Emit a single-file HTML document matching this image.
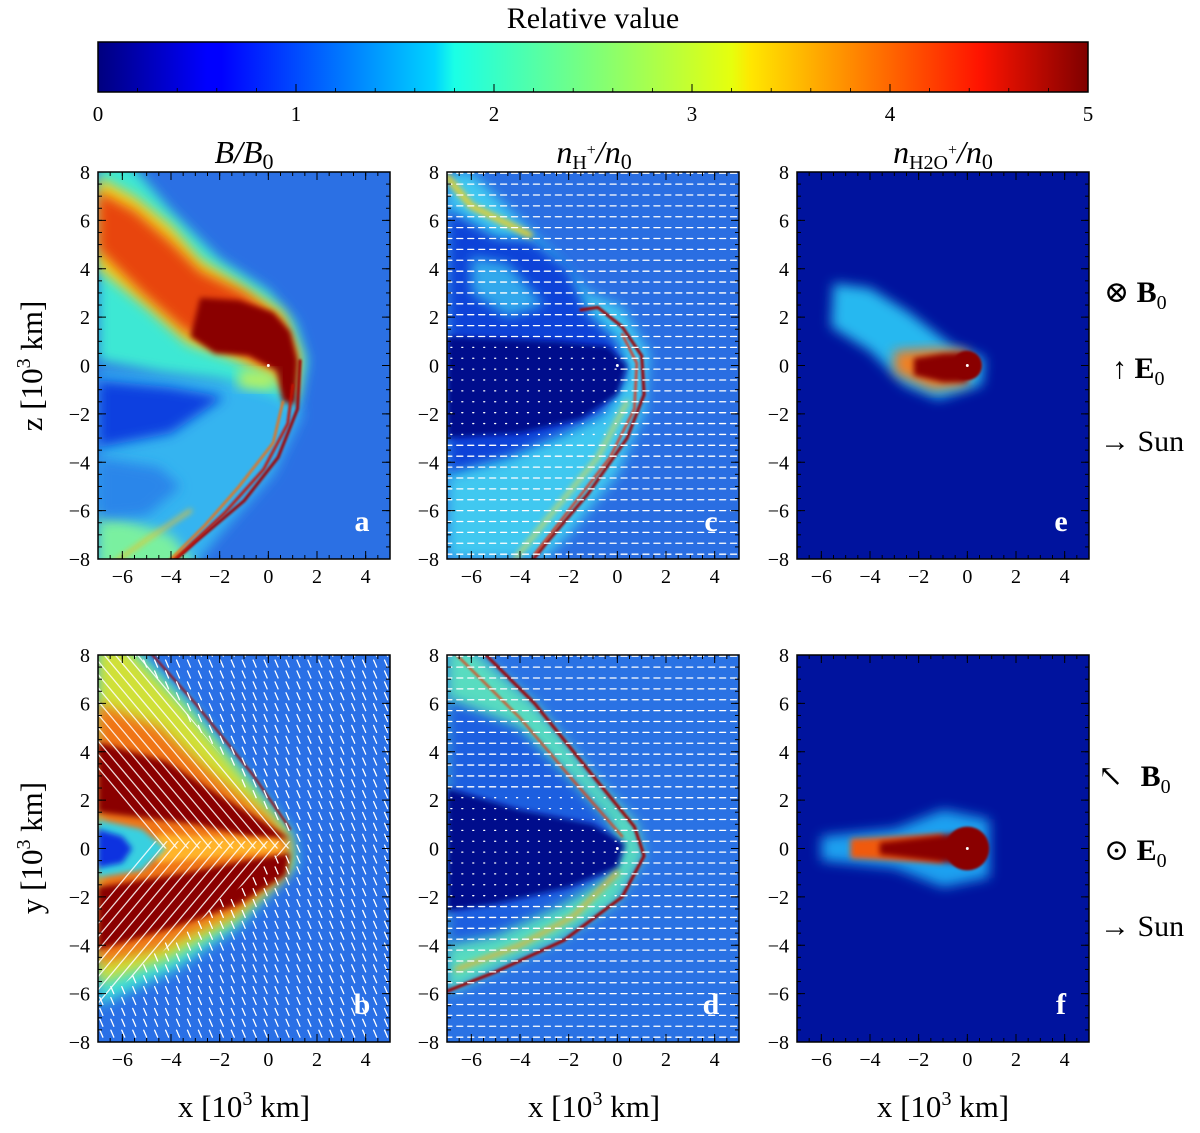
<!DOCTYPE html>
<html><head><meta charset="utf-8"><style>
html,body{margin:0;padding:0;background:#fff;}
svg{display:block;font-family:"Liberation Serif","DejaVu Serif",serif;}
</style></head><body>
<svg id="fig" width="1200" height="1133" viewBox="0 0 1200 1133" xmlns="http://www.w3.org/2000/svg">
<defs>
<linearGradient id="jet" x1="0" x2="1" y1="0" y2="0">
<stop offset="0" stop-color="#00007f"/><stop offset="0.11" stop-color="#0000ff"/><stop offset="0.125" stop-color="#0000ff"/>
<stop offset="0.34" stop-color="#00d4ff"/><stop offset="0.36" stop-color="#1affe6"/><stop offset="0.5" stop-color="#7dff7a"/>
<stop offset="0.64" stop-color="#e6ff0d"/><stop offset="0.66" stop-color="#ffe600"/><stop offset="0.89" stop-color="#ff1400"/><stop offset="1" stop-color="#7f0000"/>
</linearGradient>
<filter id="b6" x="-20%" y="-20%" width="140%" height="140%"><feGaussianBlur stdDeviation="6"/></filter>
<filter id="b3" x="-20%" y="-20%" width="140%" height="140%"><feGaussianBlur stdDeviation="3"/></filter>
<filter id="b1"><feGaussianBlur stdDeviation="1"/></filter>
</defs>
<text x="593" y="28" text-anchor="middle" font-size="30">Relative value</text>
<rect x="98" y="42" width="990" height="50" fill="url(#jet)" stroke="#000" stroke-width="1.5"/>
<g id="cbticks"></g>
<g id="panels"></g>
<text x="244" y="163" text-anchor="middle" font-size="32" font-style="italic">B/B<tspan font-style="normal" font-size="22" dy="6">0</tspan></text>
<text x="594" y="163" text-anchor="middle" font-size="32" font-style="italic">n<tspan font-style="normal" font-size="20" dy="6">H</tspan><tspan font-style="normal" font-size="16" dy="-14">+</tspan><tspan dy="8">/n</tspan><tspan font-style="normal" font-size="22" dy="6">0</tspan></text>
<text x="943" y="163" text-anchor="middle" font-size="32" font-style="italic">n<tspan font-style="normal" font-size="20" dy="6">H2O</tspan><tspan font-style="normal" font-size="16" dy="-14">+</tspan><tspan dy="8">/n</tspan><tspan font-style="normal" font-size="22" dy="6">0</tspan></text>
<text transform="translate(42,366) rotate(-90)" text-anchor="middle" font-size="31">z [10<tspan font-size="20" dy="-12">3</tspan><tspan dy="12"> km]</tspan></text>
<text transform="translate(42,848) rotate(-90)" text-anchor="middle" font-size="31">y [10<tspan font-size="20" dy="-12">3</tspan><tspan dy="12"> km]</tspan></text>
<text x="244" y="1117" text-anchor="middle" font-size="31">x [10<tspan font-size="20" dy="-12">3</tspan><tspan dy="12"> km]</tspan></text>
<text x="594" y="1117" text-anchor="middle" font-size="31">x [10<tspan font-size="20" dy="-12">3</tspan><tspan dy="12"> km]</tspan></text>
<text x="943" y="1117" text-anchor="middle" font-size="31">x [10<tspan font-size="20" dy="-12">3</tspan><tspan dy="12"> km]</tspan></text>
<g font-size="30">
<text x="1104" y="302">⊗ <tspan font-weight="bold">B</tspan><tspan font-size="20" dy="7">0</tspan></text>
<text x="1112" y="378">↑ <tspan font-weight="bold">E</tspan><tspan font-size="20" dy="7">0</tspan></text>
<text x="1100" y="451">→ Sun</text>
</g>
<g font-size="30">
<text x="1098" y="786">↖ <tspan font-weight="bold" dx="10">B</tspan><tspan font-size="20" dy="7">0</tspan></text>
<text x="1104" y="860">⊙ <tspan font-weight="bold">E</tspan><tspan font-size="20" dy="7">0</tspan></text>
<text x="1100" y="936">→ Sun</text>
</g>
</svg>
<script>
const cbTicks=[0,1,2,3,4,5];
const xTicks=[-6,-4,-2,0,2,4];
const yTicks=[-8,-6,-4,-2,0,2,4,6,8];
const xRange=[-7,5], yRange=[-8,8];
const NS="http://www.w3.org/2000/svg";
function mk(tag,attrs,parent){const e=document.createElementNS(NS,tag);for(const k in attrs)e.setAttribute(k,attrs[k]);parent.appendChild(e);return e;}
const cbg=document.getElementById('cbticks');
const cbx=v=>98+v/5*990;
cbTicks.forEach(v=>{
  const t=mk('text',{x:cbx(v),y:121,'text-anchor':'middle','font-size':21},cbg);t.textContent=v;
  
  
  mk('line',{x1:cbx(v),x2:cbx(v),y1:92,y2:84,stroke:'#000','stroke-width':1},cbg);
});
for(let v=0;v<=5.001;v+=0.2){mk('line',{x1:cbx(v),x2:cbx(v),y1:92,y2:88,stroke:'#000','stroke-width':0.8},cbg);}

const W=292,H=387;
const panels=[
 {id:'a',x0:98,y0:172,bg:'#2b70e4'},
 {id:'c',x0:447,y0:172,bg:'#2a6ee2'},
 {id:'e',x0:797,y0:172,bg:'#00139e'},
 {id:'b',x0:98,y0:655,bg:'#2a70e6'},
 {id:'d',x0:447,y0:655,bg:'#2a72e4'},
 {id:'f',x0:797,y0:655,bg:'#00139e'}];
const pg=document.getElementById('panels');
panels.forEach(p=>{
  const sx=x=>p.x0+(x-xRange[0])/(xRange[1]-xRange[0])*W;
  const sy=y=>p.y0+(yRange[1]-y)/(yRange[1]-yRange[0])*H;
  const cp=mk('clipPath',{id:'clip'+p.id},pg);mk('rect',{x:p.x0,y:p.y0,width:W,height:H},cp);
  const g=mk('g',{'clip-path':'url(#clip'+p.id+')'},pg);
  
  
  mk('rect',{x:p.x0,y:p.y0,width:W,height:H,fill:p.bg},g);
  const dpath=pts=>'M'+pts.map(q=>sx(q[0]).toFixed(1)+','+sy(q[1]).toFixed(1)).join('L');
  const poly=(pts,fill,filt,op,par)=>{const e=mk('path',{d:dpath(pts)+'Z',fill:fill},par||g);if(filt)e.setAttribute('filter','url(#'+filt+')');if(op)e.setAttribute('opacity',op);return e;};
  const line=(pts,col,w,filt,par)=>{const e=mk('path',{d:dpath(pts),fill:'none',stroke:col,'stroke-width':w,'stroke-linejoin':'round','stroke-linecap':'round'},par||g);if(filt)e.setAttribute('filter','url(#'+filt+')');return e;};
  const circ=(x,y,r,fill,filt)=>{const e=mk('circle',{cx:sx(x),cy:sy(y),r:r*W/12,fill:fill},g);if(filt)e.setAttribute('filter','url(#'+filt+')');return e;};
  const arrows=(fn)=>{for(let gx=-6.8;gx<5;gx+=0.45){for(let gy=-7.8;gy<8;gy+=0.45){const v=fn(gx,gy);if(!v)continue;const X=sx(gx),Y=sy(gy);mk('line',{x1:X,y1:Y,x2:X+v[0],y2:Y+v[1],stroke:'#fff','stroke-width':1.3,'stroke-linecap':'round'},g);}}};
  if(p.id==='a'){
    poly([[-7,-0.2],[-2,-0.6],[0.5,-0.6],[1.4,-2],[0.2,-4.5],[-2,-7],[-3.2,-8.5],[-7,-8.5]],'#34b4f0','b6');
    poly([[-7,-6],[-4,-7],[-2.8,-8.5],[-7,-8.5]],'#7af0a0','b6');
    poly([[-7,8.5],[-5.8,8.5],[-4,6.4],[-2,4.4],[0,3.1],[1.1,1.8],[1.6,0.2],[1.2,-1.8],[0.2,-1.2],[-2,-0.6],[-4.4,-0.3],[-7,0.2]],'#3ce8d4','b6');
    poly([[-7,-0.6],[-4,-0.9],[-1.8,-1.3],[-4,-2.8],[-7,-3.4]],'#0c40e0','b6');
    poly([[-7,-3.8],[-4.5,-4.2],[-3.6,-5],[-5,-6.2],[-7,-6.4]],'#2c86ea','b6');
    poly([[-7,7.8],[-5.5,7],[-4,5.8],[-2.8,4.4],[-1.2,3.4],[0.6,2.2],[1.3,0.4],[1.1,-1.4],[0.3,-0.5],[-1.5,0.3],[-3.3,0.9],[-5,2.4],[-7,4]],'#f2d024','b6');
    poly([[-7,7.2],[-5.5,6.4],[-4,5.1],[-2.8,3.9],[-1,3],[0.6,1.8],[1.1,0.3],[0.9,-1],[0.3,-0.3],[-1.5,0.7],[-3.4,1.4],[-5.2,3],[-7,4.8]],'#e8440e','b6');
    poly([[-2.8,2.8],[-1.2,2.7],[0.2,2.2],[0.9,1.4],[1.2,0.2],[1.1,-1.6],[0.6,-1.5],[0.3,-0.2],[-0.8,0.4],[-2.2,0.5],[-3.2,1.2]],'#8a0000','b3');
    poly([[-1.2,-0.2],[0.3,-0.3],[0.2,-1],[-1.2,-0.9]],'#b8f060','b6');
    line([[1.3,0.2],[1.2,-1.8],[0.4,-3.8],[-1,-5.6],[-3,-7.3],[-4,-8.2]],'#a00000',3,'b1');
    line([[1.0,-0.8],[0.8,-2.4],[-0.2,-4.3],[-1.8,-6.1],[-3.4,-7.6],[-4.4,-8.4]],'#c81000',2.6,'b1');
    line([[0.6,-1.5],[0.2,-3.2],[-1.2,-5],[-2.6,-6.6],[-4.2,-8.2]],'#f07010',2.4,'b1');
    line([[-3.2,-6],[-5,-7.2],[-6.4,-8.2]],'#f0c020',3,'b3');
    circ(0,0,0.06,'#fff');
  }
  if(p.id==='b'){
    const inW=(x,y)=> y>=0 ? x < 1.1 - y*0.83 : x < 1.1 + y*1.25;
    poly([[-5.6,8.5],[-3.2,6],[-0.8,3],[1,0.6],[1.2,-0.6],[-1.2,-3.2],[-3.8,-5],[-7,-6.5],[-7,8.5]],'#40e0d8','b6');
    poly([[-5.8,8.3],[-3.4,5.8],[-1,2.9],[0.8,0.6],[0.9,-0.8],[-1.4,-3],[-4.2,-4.6],[-7,-5.6],[-7,8.3]],'#d0e038','b6');
    poly([[-7,6],[-4.5,5],[-2.2,3],[0,1.3],[0.9,0.2],[0.6,-1.2],[-1.4,-2.7],[-4.4,-4.1],[-7,-4.8]],'#f07414','b6');
    poly([[-7,4.4],[-4.2,3.6],[-2,2.2],[-0.2,1.1],[0.9,0.4],[-0.8,0.5],[-3,1],[-7,1.5]],'#8a0000','b3');
    poly([[-7,-1.6],[-3.4,-1],[-1,-0.5],[0.9,-0.2],[0.7,-1.1],[-1.2,-2.3],[-4,-3.3],[-7,-4.2]],'#8a0000','b3');
    poly([[-4.6,0.6],[0.4,0.35],[0.6,-0.1],[-4.6,-0.6]],'#ffb42a','b3');
    poly([[-7,1.2],[-5.2,0.8],[-4.2,0],[-5.2,-0.9],[-7,-1.2]],'#38d0e0','b3');
    poly([[-7,0.8],[-6,0.5],[-5.6,0],[-6,-0.6],[-7,-0.8]],'#0a30e0','b3');
    line([[-5.2,8.5],[-3,6],[-0.6,3],[0.9,0.8]],'#a00000',2,'b1');
    arrows((x,y)=>inW(x,y)?null:[-3,-7]);
    const wu=mk('clipPath',{id:'wedgebu'},pg);
    mk('path',{d:dpath([[-5.4,8.2],[1.1,0],[-7,0],[-7,8.2]])+'Z'},wu);
    const wd=mk('clipPath',{id:'wedgebd'},pg);
    mk('path',{d:dpath([[1.1,0.3],[-7,-6.5],[-7,0.3]])+'Z'},wd);
    const wlu=mk('g',{'clip-path':'url(#wedgebu)'},g);
    const wld=mk('g',{'clip-path':'url(#wedgebd)'},g);
    for(let k=0;k<24;k++){const y0=16-k*0.55;line([[-7,y0],[3,y0-12]],'rgba(255,255,255,0.85)',1.3,null,wlu);}
    for(let k=0;k<20;k++){const y0=-13+k*0.55;line([[-7,y0],[3,y0+12]],'rgba(255,255,255,0.85)',1.3,null,wld);}
  }
  if(p.id==='c'||p.id==='d'){
    if(p.id==='c'){
      poly([[-7,8],[-6,8],[-4,6],[-2.5,4.5],[-1.2,3],[0.2,2.4],[1.3,0.5],[1.1,-2],[0,-4.5],[-2,-7],[-3,-8],[-7,-8]],'#40c8f0','b6');
      poly([[-7,6.5],[-5,5.3],[-3.5,5.2],[-2,4],[-1.2,2.2],[0,1],[0.4,-0.4],[-0.6,-2],[-2.4,-2.9],[-4.5,-3.8],[-7,-4.5]],'#1142d8','b6');
      poly([[-6,4.5],[-4.5,4.2],[-3,2.5],[-4.5,2],[-6,3]],'#30a8ec','b6');
      poly([[-7,1.2],[-2.5,1],[-0.4,0.8],[0.4,0],[0,-1.2],[-1.5,-2.2],[-4,-2.8],[-7,-3]],'#000a8c','b3');
      line([[-7,7.8],[-6,6.6],[-4.4,5.8],[-3.6,5.4]],'#f0d020',6,'b3');
      line([[-1.5,2.3],[-0.8,2.4],[0.2,1.6],[1,0.4],[1.1,-1.2],[0.4,-3],[-1.2,-5.3],[-2.8,-7.2],[-3.6,-8.2]],'#a00000',3,'b1');
      line([[0.2,1.3],[0.8,0.1],[0.7,-1.8],[-0.3,-3.8],[-2,-6],[-3.4,-7.8]],'#e83010',2.2,'b1');
      line([[0.4,-1.5],[-0.8,-3.8],[-2.6,-6],[-4.2,-8]],'#f4e030',3,'b3');
    } else {
      poly([[-6,8.3],[-3.4,6],[-1,3],[0.8,1],[1.1,-0.3],[0,-2.2],[-2.4,-3.8],[-5,-5],[-7,-6],[-7,8.3]],'#58dcc0','b6');
      poly([[-7,6.2],[-4,5],[-2,3],[-0.4,1.2],[0.2,0],[-0.4,-1.2],[-2.4,-2.4],[-5,-3.6],[-7,-4]],'#1f5ee0','b6');
      poly([[-7,2.5],[-4,1.6],[-1,1],[0.3,0.2],[0,-0.8],[-2,-1.6],[-5,-2.3],[-7,-2.6]],'#000a8c','b3');
      line([[-5.8,8.4],[-3.4,6],[-1,3],[0.7,0.9],[1.1,-0.3],[0.2,-2],[-2.2,-3.8],[-5,-5.1],[-7,-5.9]],'#a00000',3,'b1');
      line([[-6.6,8],[-4,5.4],[-1.8,2.8],[0.2,0.5]],'#e84010',2,'b1');
      line([[-6.6,-5],[-4,-4],[-1.8,-2.8],[0,-1]],'#f0b020',4,'b3');
    }
    circ(0,0,0.06,'#fff');
    arrows((x,y)=>{const inCav=(p.id==='c')?(y<1&&y>-3&&x<0.3):(Math.abs(y)<2.2&&x<0.2);return inCav?[-1,0]:[-6,0];});
  }
  if(p.id==='e'){
    poly([[-5.5,3.4],[-4,3.2],[-2.4,2.2],[-0.6,0.8],[0.7,0.3],[0.6,-0.8],[-1.2,-1.4],[-2.6,-0.8],[-4,0.6],[-5.6,1.6]],'#28b8f0','b6');
    poly([[-3,0.6],[-1.4,0.7],[0,0.6],[0,-0.8],[-1.4,-1],[-3,-0.3]],'#f08020','b6');
    circ(0,0,0.6,'#8a0000','b1');
    poly([[-2.2,0.3],[-1,0.5],[0,0.55],[0,-0.7],[-1,-0.7],[-2.2,-0.4]],'#8a0000','b3');
    circ(0,0,0.06,'#fff');
  }
  if(p.id==='f'){
    poly([[-6,0.5],[-3,0.8],[-1,1.6],[0.9,1.2],[0.9,-1.2],[-1,-1.6],[-3,-0.8],[-6,-0.5]],'#1ea0f0','b6');
    poly([[-4.8,0.4],[-1,0.6],[-1,-0.6],[-4.8,-0.4]],'#f05a10','b3');
    circ(0,0,0.9,'#8a0000','b1');
    poly([[-3.6,0.25],[-1.5,0.5],[0,0.7],[0,-0.7],[-1.5,-0.5],[-3.6,-0.25]],'#8a0000','b3');
    circ(0,0,0.06,'#fff');
  }
  const ax=mk('g',{},pg);
  
  
  mk('rect',{x:p.x0,y:p.y0,width:W,height:H,fill:'none',stroke:'#000','stroke-width':1.5},ax);
  xTicks.forEach(v=>{const X=sx(v);mk('line',{x1:X,x2:X,y1:p.y0+H,y2:p.y0+H-8,stroke:'#000'},ax);mk('line',{x1:X,x2:X,y1:p.y0,y2:p.y0+8,stroke:'#000'},ax);
    const t=mk('text',{x:X,y:p.y0+H+24,'text-anchor':'middle','font-size':20},ax);t.textContent=v<0?'−'+(-v):v;
    
    });
  for(let v=-7;v<=5;v+=0.5){const X=sx(v);mk('line',{x1:X,x2:X,y1:p.y0+H,y2:p.y0+H-4,stroke:'#000'},ax);mk('line',{x1:X,x2:X,y1:p.y0,y2:p.y0+4,stroke:'#000'},ax);}
  yTicks.forEach(v=>{const Y=sy(v);mk('line',{x1:p.x0,x2:p.x0+8,y1:Y,y2:Y,stroke:'#000'},ax);mk('line',{x1:p.x0+W,x2:p.x0+W-8,y1:Y,y2:Y,stroke:'#000'},ax);
    const t=mk('text',{x:p.x0-8,y:Y+7,'text-anchor':'end','font-size':20},ax);t.textContent=v<0?'−'+(-v):v;
    
    });
  for(let v=-8;v<=8;v+=0.5){const Y=sy(v);mk('line',{x1:p.x0,x2:p.x0+4,y1:Y,y2:Y,stroke:'#000'},ax);mk('line',{x1:p.x0+W,x2:p.x0+W-4,y1:Y,y2:Y,stroke:'#000'},ax);}
  const lb=mk('text',{x:p.x0+W-28,y:p.y0+H-28,'text-anchor':'middle','font-size':30,'font-weight':'bold',fill:'#fff'},ax);lb.textContent=p.id;
  
  
});
</script>
</body></html>
